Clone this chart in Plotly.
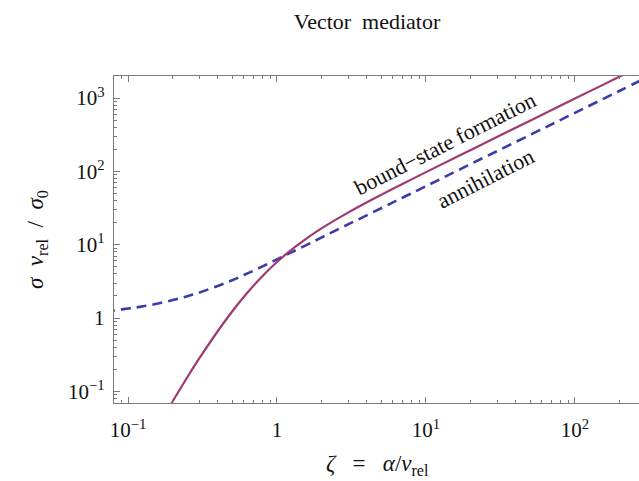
import plotly.graph_objects as go
import numpy as np

# Annihilation (Sommerfeld-enhanced), sigma*v_rel / sigma_0 vs zeta
zeta_ann = [0.07, 0.08, 0.1, 0.12, 0.15, 0.2, 0.25, 0.3, 0.4, 0.5, 0.6, 0.7, 0.85,
            1, 1.2, 1.5, 2, 3, 5, 7, 10, 20, 50, 100, 200, 300]
sigma_ann = [1.24, 1.27, 1.35, 1.42, 1.54, 1.76, 1.98, 2.22, 2.74, 3.28, 3.86, 4.45, 5.37,
             6.30, 7.54, 9.43, 12.6, 18.9, 31.4, 44.0, 62.8, 126, 314, 628, 1257, 1885]

# Bound-state formation
zeta_bsf = [0.18, 0.2, 0.25, 0.3, 0.4, 0.5, 0.6, 0.7, 0.85, 1, 1.2, 1.5, 2, 3, 5, 7,
            10, 20, 50, 100, 200, 270]
sigma_bsf = [0.0515, 0.0739, 0.156, 0.279, 0.661, 1.23, 1.95, 2.80, 4.24, 5.80, 7.99,
             11.3, 16.8, 27.4, 47.8, 67.8, 97.6, 196, 491, 982, 1964, 2652]

x_tickvals = [0.1, 1, 10, 100]
x_ticktext = ["10<sup>\u22121</sup>", "1", "10<sup>1</sup>", "10<sup>2</sup>"]
y_tickvals = [0.1, 1, 10, 100, 1000]
y_ticktext = ["10<sup>\u22121</sup>", "1", "10<sup>1</sup>", "10<sup>2</sup>", "10<sup>3</sup>"]

SERIF = "Liberation Serif, Times New Roman, serif"
C_BSF = "#9E3A70"
C_ANN = "#3C3CA8"
AXIS_C = "#7a7a7a"
NB = "\u00a0"


def minor_vals(lo, hi):
    vals = []
    for k in range(lo, hi + 1):
        for m in range(2, 10):
            vals.append(m * 10.0 ** k)
    return vals


fig = go.Figure()
fig.add_trace(go.Scatter(
    x=zeta_ann, y=sigma_ann, mode="lines",
    line=dict(color=C_ANN, width=2.6, dash="10px,6px", shape="spline", smoothing=1.0),
    showlegend=False, hoverinfo="skip"))
fig.add_trace(go.Scatter(
    x=zeta_bsf, y=sigma_bsf, mode="lines",
    line=dict(color=C_BSF, width=2.2, shape="spline", smoothing=1.0),
    showlegend=False, hoverinfo="skip"))

fig.update_layout(
    width=639, height=481,
    margin=dict(l=114, r=0, t=76, b=78),
    paper_bgcolor="white", plot_bgcolor="white",
    font=dict(family=SERIF, color="#111", size=20),
    title=dict(text="Vector" + NB * 2 + "mediator", x=367 / 639, xref="container", xanchor="center",
               y=1 - 21 / 481, yref="container", yanchor="middle",
               font=dict(family=SERIF, size=22, color="#111")),
    xaxis=dict(
        type="log", range=[-1.094, 2.43],
        showline=True, linecolor=AXIS_C, linewidth=1.4, mirror="ticks",
        showgrid=False, zeroline=False,
        ticks="inside", ticklen=6, tickwidth=1.2, tickcolor=AXIS_C,
        tickmode="array", tickvals=x_tickvals, ticktext=x_ticktext,
        ticklabelstandoff=8,
        tickfont=dict(family=SERIF, size=21, color="#111"),
        minor=dict(tickmode="array", tickvals=minor_vals(-2, 2), ticks="inside",
                   ticklen=3, tickwidth=1, tickcolor=AXIS_C, showgrid=False),
    ),
    yaxis=dict(
        type="log", range=[-1.158, 3.30],
        showline=True, linecolor=AXIS_C, linewidth=1.4, mirror=False,
        showgrid=False, zeroline=False,
        ticks="inside", ticklen=6, tickwidth=1.2, tickcolor=AXIS_C,
        tickmode="array", tickvals=y_tickvals, ticktext=y_ticktext,
        ticklabelstandoff=4,
        tickfont=dict(family=SERIF, size=21, color="#111"),
        minor=dict(tickmode="array", tickvals=minor_vals(-2, 3), ticks="inside",
                   ticklen=3, tickwidth=1, tickcolor=AXIS_C, showgrid=False),
    ),
)

annotations = [
    dict(text="<i>\u03b6</i>" + NB * 3 + "=" + NB * 3 + "<i>\u03b1</i>/<i>v</i><sub>rel</sub>",
         xref="paper", yref="paper", x=(377 - 114) / 525, y=-(465 - 403) / 327,
         xanchor="center", yanchor="middle", showarrow=False,
         font=dict(family=SERIF, size=23, color="#111")),
    dict(text="<i>\u03c3</i>" + NB * 2 + "<i>v</i><sub>rel</sub>" + NB * 2 + "/" + NB * 2
         + "<i>\u03c3</i><sub>0</sub>",
         xref="paper", yref="paper", x=-(114 - 37) / 525, y=(403 - 240) / 327,
         xanchor="center", yanchor="middle", textangle=-90, showarrow=False,
         font=dict(family=SERIF, size=23, color="#111")),
    dict(text="bound\u2212state formation", xref="x", yref="y",
         x=np.log10(13.5), y=np.log10(240), textangle=-27, showarrow=False,
         xanchor="center", yanchor="middle",
         font=dict(family=SERIF, size=22, color="#111")),
    dict(text="annihilation", xref="x", yref="y",
         x=np.log10(25.0), y=np.log10(80), textangle=-27, showarrow=False,
         xanchor="center", yanchor="middle",
         font=dict(family=SERIF, size=22, color="#111")),
]
fig.update_layout(annotations=annotations)

fig.write_html("out.html")
